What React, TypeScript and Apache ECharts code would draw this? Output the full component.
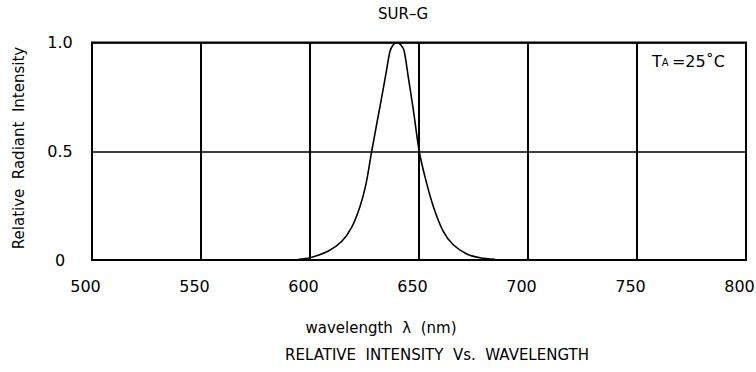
import React, { useEffect, useRef } from "react";
import * as echarts from "echarts";

const wavelengths = [594.7, 600, 608.2, 614.5, 619.1, 622.9, 625.7, 628.3, 632.1, 634.9, 636.7, 638.2, 639.8, 641.6, 643.1, 645.1, 647.4, 650.1, 652.8, 656.6, 661.2, 665.7, 671.9, 678, 684.9];
const intensities = [0.003, 0.01, 0.04, 0.085, 0.15, 0.245, 0.35, 0.5, 0.705, 0.86, 0.96, 0.99, 1.0, 0.99, 0.965, 0.84, 0.69, 0.5, 0.38, 0.245, 0.13, 0.07, 0.028, 0.01, 0.003];

const xMin = 500;
const xMax = 800;
const xStep = 50;
const yMin = 0;
const yMax = 1;
const yStep = 0.5;

const titleText = "SUR–G";
const xAxisTitle = "wavelength  λ  (nm)";
const yAxisTitle = "Relative  Radiant  Intensity";
const captionText = "RELATIVE  INTENSITY  Vs.  WAVELENGTH";

const FONT = "DejaVu Sans";

export default function App() {
  const ref = useRef<HTMLDivElement>(null);
  useEffect(() => {
    if (!ref.current) return;
    const chart = echarts.init(ref.current, null, { renderer: "svg" });
    const data = wavelengths.map((w, i) => [w, intensities[i]]);
    chart.setOption({
      animation: false,
      backgroundColor: "#fff",
      grid: {
        left: 92,
        right: 10,
        top: 42.5,
        bottom: 112,
        show: true,
        borderColor: "#000",
        borderWidth: 2,
        containLabel: false,
        outerBoundsMode: "none",
      },
      xAxis: {
        type: "value",
        min: xMin,
        max: xMax,
        interval: xStep,
        axisLine: { show: false },
        axisTick: { show: false },
        splitLine: { show: true, lineStyle: { color: "#000", width: 2 } },
        axisLabel: {
          color: "#000",
          fontFamily: FONT,
          fontSize: 16,
          lineHeight: 16,
          margin: 18,
          padding: [0, 13, 0, 0],
        },
      },
      yAxis: {
        type: "value",
        min: yMin,
        max: yMax,
        interval: yStep,
        axisLine: { show: false },
        axisTick: { show: false },
        splitLine: { show: true, lineStyle: { color: "#000", width: 1.5 } },
        axisLabel: {
          color: "#000",
          fontFamily: FONT,
          fontSize: 16,
          align: "center",
          margin: 32,
          formatter: (v: number) => (v === 0 ? "0" : v.toFixed(1)),
        },
      },
      series: [
        {
          type: "line",
          data,
          smooth: 0.3,
          showSymbol: false,
          lineStyle: { color: "#000", width: 1.6 },
        },
      ],
      graphic: [
        {
          type: "text",
          x: 403,
          y: 14,
          style: {
            text: titleText,
            fill: "#000",
            font: `15px "${FONT}"`,
            textAlign: "center",
            textVerticalAlign: "middle",
          },
        },
        {
          type: "text",
          x: 381,
          y: 328,
          style: {
            text: xAxisTitle,
            fill: "#000",
            font: `15px "${FONT}"`,
            textAlign: "center",
            textVerticalAlign: "middle",
          },
        },
        {
          type: "text",
          x: 437,
          y: 355,
          style: {
            text: captionText,
            fill: "#000",
            font: `15px "${FONT}"`,
            textAlign: "center",
            textVerticalAlign: "middle",
          },
        },
        {
          type: "text",
          x: 18.5,
          y: 148,
          rotation: Math.PI / 2,
          style: {
            text: yAxisTitle,
            fill: "#000",
            font: `15px "${FONT}"`,
            textAlign: "center",
            textVerticalAlign: "middle",
          },
        },
        {
          type: "text",
          x: 652,
          y: 61,
          style: {
            text: "{t|T}{a|A} {t|=25˚C}",
            fill: "#000",
            textVerticalAlign: "middle",
            rich: {
              t: { fontFamily: FONT, fontSize: 16, fill: "#000" },
              a: { fontFamily: FONT, fontSize: 10, fill: "#000", padding: [3, 0, 0, 0] },
            },
          },
        },
      ],
    });
    return () => chart.dispose();
  }, []);
  return (
    <div
      ref={ref}
      style={{ position: "fixed", left: 0, top: 0, width: 756, height: 372 }}
    />
  );
}
